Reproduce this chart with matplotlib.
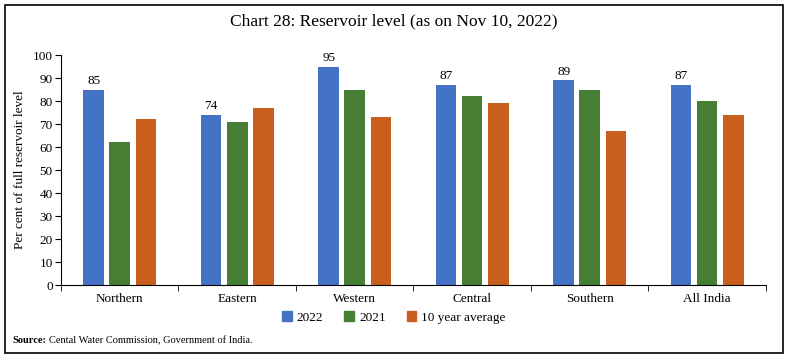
import matplotlib
matplotlib.use("Agg")
import matplotlib.pyplot as plt
import matplotlib.patches as mpatches
import numpy as np

regions = ["Northern", "Eastern", "Western", "Central", "Southern", "All India"]
series_names = ["2022", "2021", "10 year average"]
vals_2022 = [85, 74, 95, 87, 89, 87]
vals_2021 = [62, 71, 85, 82, 85, 80]
vals_avg = [72, 77, 73, 79, 67, 74]
colors = ["#4472C4", "#467E33", "#C95F1C"]

plt.rcParams["font.family"] = ["Liberation Serif", "DejaVu Serif"]

fig = plt.figure(figsize=(7.88, 3.6), dpi=100)
ax = fig.add_axes([0.0774, 0.2083, 0.8946, 0.6389])

x = np.arange(len(regions))
pitch = 0.222
width = 0.175
all_vals = [vals_2022, vals_2021, vals_avg]
for i, (name, vals) in enumerate(zip(series_names, all_vals)):
    bars = ax.bar(x + (i - 1) * pitch, vals, width=width, color=colors[i], label=name)
    if i == 0:
        for b, v in zip(bars, vals):
            ax.text(b.get_x() + b.get_width() / 2, v + 1.2, str(v), ha="center", va="bottom", fontsize=9.5)

ax.set_xlim(-0.5, len(regions) - 0.5)
ax.set_ylim(0, 100)
ax.set_yticks(range(0, 101, 10))
ax.set_xticks(x)
ax.set_xticklabels(regions, fontsize=9.5)
ax.set_xticks(np.arange(-0.5, len(regions)), minor=True)
ax.tick_params(axis="x", which="major", length=0, pad=6)
ax.tick_params(axis="x", which="minor", length=4, direction="out")
ax.tick_params(axis="y", labelsize=9.5, length=4, direction="out", pad=2)
for s in ["top", "right"]:
    ax.spines[s].set_visible(False)
ax.set_ylabel("Per cent of full reservoir level", fontsize=9.5, labelpad=5)

fig.text(0.5, 0.94, "Chart 28: Reservoir level (as on Nov 10, 2022)", ha="center", va="center", fontsize=12.5)

handles = [mpatches.Patch(color=c) for c in colors]
fig.legend(handles, series_names, loc="center", bbox_to_anchor=(0.5, 0.118), ncol=3, frameon=False,
           fontsize=9.5, handlelength=0.7, handleheight=0.7, handletextpad=0.4, columnspacing=1.6)

fig.text(0.016, 0.055, "Source:", fontsize=7.5, fontweight="bold", va="center")
fig.text(0.062, 0.055, "Cental Water Commission, Government of India.", fontsize=7.5, va="center")

fig.add_artist(mpatches.Rectangle((0.006, 0.02), 0.988, 0.967, transform=fig.transFigure,
                                  fill=False, edgecolor="black", linewidth=1.2))

fig.savefig("out.png", dpi=100)
